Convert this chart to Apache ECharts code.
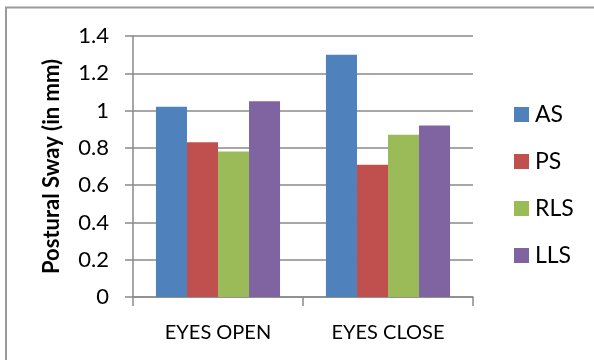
<!DOCTYPE html>
<html>
<head>
<meta charset="utf-8">
<script src="https://cdn.jsdelivr.net/npm/echarts@6/dist/echarts.min.js"></script>
<style>
  html, body { margin: 0; padding: 0; background: #fff; }
  #chart { width: 594px; height: 360px; }
</style>
</head>
<body>
<div id="chart"></div>
<script>
// Postural sway by condition and stance
const categories = ['EYES OPEN', 'EYES CLOSE'];
const seriesNames = ['AS', 'PS', 'RLS', 'LLS'];
const asValues = [1.02, 1.30];
const psValues = [0.83, 0.71];
const rlsValues = [0.78, 0.87];
const llsValues = [1.05, 0.92];
const colors = ['#4F81BD', '#C0504D', '#9BBB59', '#8064A2'];
const yTicks = [0, 0.2, 0.4, 0.6, 0.8, 1, 1.2, 1.4];

const FONT = 'Lato';
const seriesValues = [asValues, psValues, rlsValues, llsValues];

const chart = echarts.init(document.getElementById('chart'), null, { renderer: 'canvas' });

chart.setOption({
  animation: false,
  backgroundColor: '#ffffff',
  textStyle: { fontFamily: FONT, color: '#000' },
  graphic: [
    {
      type: 'polyline',
      shape: { points: [[6, 360], [6, 7.5], [594, 7.5]] },
      style: { stroke: '#9a9a9a', lineWidth: 2, fill: null }
    }
  ],
  grid: { left: 133, right: 121, top: 36, bottom: 63 },
  legend: {
    orient: 'vertical',
    left: 509,
    top: 98,
    padding: 5,
    itemWidth: 15,
    itemHeight: 15,
    itemGap: 24,
    icon: 'rect',
    textStyle: { fontFamily: FONT, fontSize: 23, color: '#000', padding: [0, 0, 0, 1] },
    data: seriesNames
  },
  xAxis: {
    type: 'category',
    data: categories,
    axisLine: { lineStyle: { color: '#8a8a8a', width: 1.5 } },
    axisTick: { show: true, length: 9, lineStyle: { color: '#8a8a8a', width: 1.5 } },
    axisLabel: { fontFamily: FONT, fontSize: 20, color: '#000', margin: 26 }
  },
  yAxis: {
    type: 'value',
    min: 0,
    max: 1.4,
    interval: 0.2,
    name: 'Postural Sway (in mm)',
    nameLocation: 'middle',
    nameGap: 70,
    nameTextStyle: { fontFamily: FONT, fontSize: 22, fontWeight: 'bold', color: '#000' },
    axisLine: { show: true, lineStyle: { color: '#8a8a8a', width: 1.5 } },
    axisTick: { show: true, length: 8, lineStyle: { color: '#8a8a8a', width: 1.5 } },
    splitLine: { lineStyle: { color: '#8a8a8a', width: 1.5 } },
    axisLabel: {
      fontFamily: FONT, fontSize: 22, color: '#000', margin: 24,
      formatter: v => {
        const t = yTicks.find(x => Math.abs(x - v) < 1e-9);
        return t === undefined ? '' : String(t);
      }
    }
  },
  series: seriesNames.map((name, i) => ({
    name,
    type: 'bar',
    data: seriesValues[i],
    itemStyle: { color: colors[i] },
    barGap: '0%',
    barCategoryGap: '27%'
  }))
});
</script>
</body>
</html>
